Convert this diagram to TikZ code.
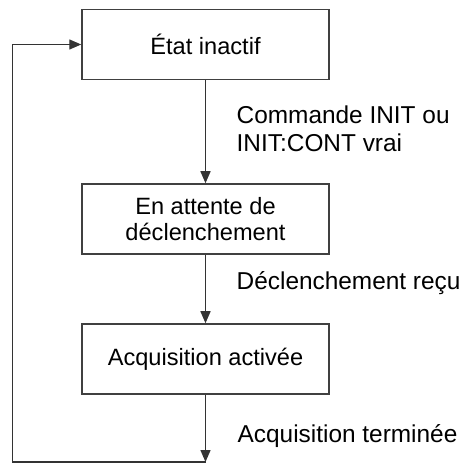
\documentclass[tikz,border=0pt]{standalone}
\usepackage{fontspec}
\setmainfont{Liberation Sans}
\usetikzlibrary{arrows.meta}
\begin{document}
\begin{tikzpicture}[x=0.5pt,y=-0.5pt,
  line width=0.7pt,
  statebox/.style={draw=black!75, line width=0.75pt, minimum width=123.5pt, minimum height=35pt, inner sep=0pt, align=center, font=\fontsize{11.8}{13}\selectfont},
  lbl/.style={anchor=west, align=left, inner sep=0pt, font=\fontsize{12.2}{14}\selectfont},
  arr/.style={draw=black!80, -{Triangle[length=6pt,width=5pt]}}]
\useasboundingbox (0,0) rectangle (465,464);
\node[statebox] (b1) at (205.5,44.5) {État inactif};
\node[statebox] (b2) at (205.5,219) {En attente de\\déclenchement};
\node[statebox] (b3) at (205.5,359) {Acquisition activée};
\coordinate (c1) at (205.5,462);
\coordinate (c2) at (12.5,462);
\draw[arr] (b1) -- (b2);
\draw[arr] (b2) -- (b3);
\draw[arr] (b3) -- (c1);
\draw[arr] (c1) -- (c2) |- (b1.west);
\node[lbl] (l1) at (236,129) {Commande INIT ou\\INIT:CONT vrai};
\node[lbl] (l2) at (236,283) {Déclenchement reçu};
\node[lbl] (l3) at (237,436) {Acquisition terminée};
\end{tikzpicture}
\end{document}
